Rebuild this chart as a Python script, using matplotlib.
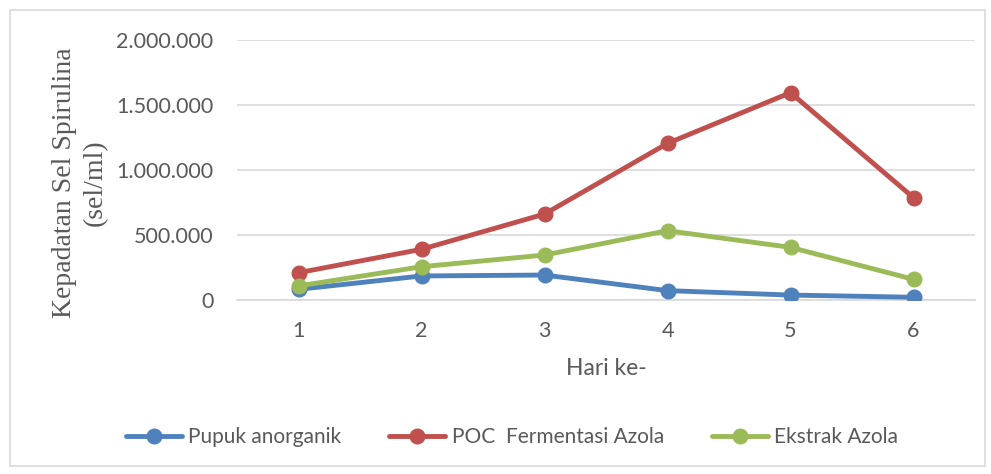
import matplotlib
matplotlib.use("Agg")
import matplotlib.pyplot as plt
from matplotlib.patches import Rectangle
from matplotlib.ticker import FuncFormatter

days = [1, 2, 3, 4, 5, 6]
day_labels = ["1", "2", "3", "4", "5", "6"]
pupuk_anorganik = [82000, 185000, 192000, 72000, 38000, 21000]
poc_fermentasi = [210000, 390000, 661000, 1205000, 1595000, 787000]
ekstrak_azola = [108000, 256000, 346000, 533000, 405000, 159000]
series_names = ["Pupuk anorganik", "POC  Fermentasi Azola", "Ekstrak Azola"]
y_ticks = [0, 500000, 1000000, 1500000, 2000000]

colors = ["#4F81BD", "#C0504D", "#9BBB59"]
tick_font = "Lato"
grey = "#595959"

fig = plt.figure(figsize=(9.91, 4.74), dpi=100)
fig.patch.set_facecolor("white")
fig.patches.append(Rectangle((10/991, 1 - 466/474), 975/991, 456/474,
                             transform=fig.transFigure, fill=False,
                             edgecolor="#D9D9D9", linewidth=1.2))

ax = fig.add_axes([237/991, 1 - 300/474, 738/991, 260/474])
for vals, c, name in zip([pupuk_anorganik, poc_fermentasi, ekstrak_azola], colors, series_names):
    ax.plot(days, vals, color=c, linewidth=3.5, marker="o", markersize=10.5,
            label=name, solid_capstyle="round", zorder=3)

ax.set_xlim(0.5, 6.5)
ax.set_ylim(0, 2000000)
ax.set_yticks(y_ticks)
ax.yaxis.set_major_formatter(FuncFormatter(lambda v, p: f"{int(v):,}".replace(",", ".")))
ax.set_xticks(days)
ax.set_xticklabels(day_labels)
ax.grid(axis="y", color="#D9D9D9", linewidth=1.2, zorder=0)
ax.set_axisbelow(True)
for s in ["top", "right", "left"]:
    ax.spines[s].set_visible(False)
ax.spines["bottom"].set_color("#D9D9D9")
ax.spines["bottom"].set_linewidth(1.2)
ax.tick_params(axis="both", length=0, labelsize=15.5, labelcolor=grey)
ax.tick_params(axis="y", pad=17)
ax.tick_params(axis="x", pad=15)
for lab in ax.get_xticklabels() + ax.get_yticklabels():
    lab.set_family(tick_font)

ax.set_xlabel("Hari ke-", fontsize=16.5, color=grey, family=tick_font, labelpad=12)
fig.text(80/991, 1 - 183/474, "Kepadatan Sel Spirulina\n(sel/ml)", rotation=90,
         ha="center", va="center", fontsize=20, color=grey,
         family="Liberation Serif", linespacing=1.3)

leg = fig.legend(loc="center", bbox_to_anchor=(512/991, 1 - 437/474), ncol=3,
                 frameon=False, handlelength=2.7, handletextpad=0.3,
                 columnspacing=2.3, prop={"family": tick_font, "size": 15})
for t in leg.get_texts():
    t.set_color(grey)

fig.savefig("out.png", dpi=100)
